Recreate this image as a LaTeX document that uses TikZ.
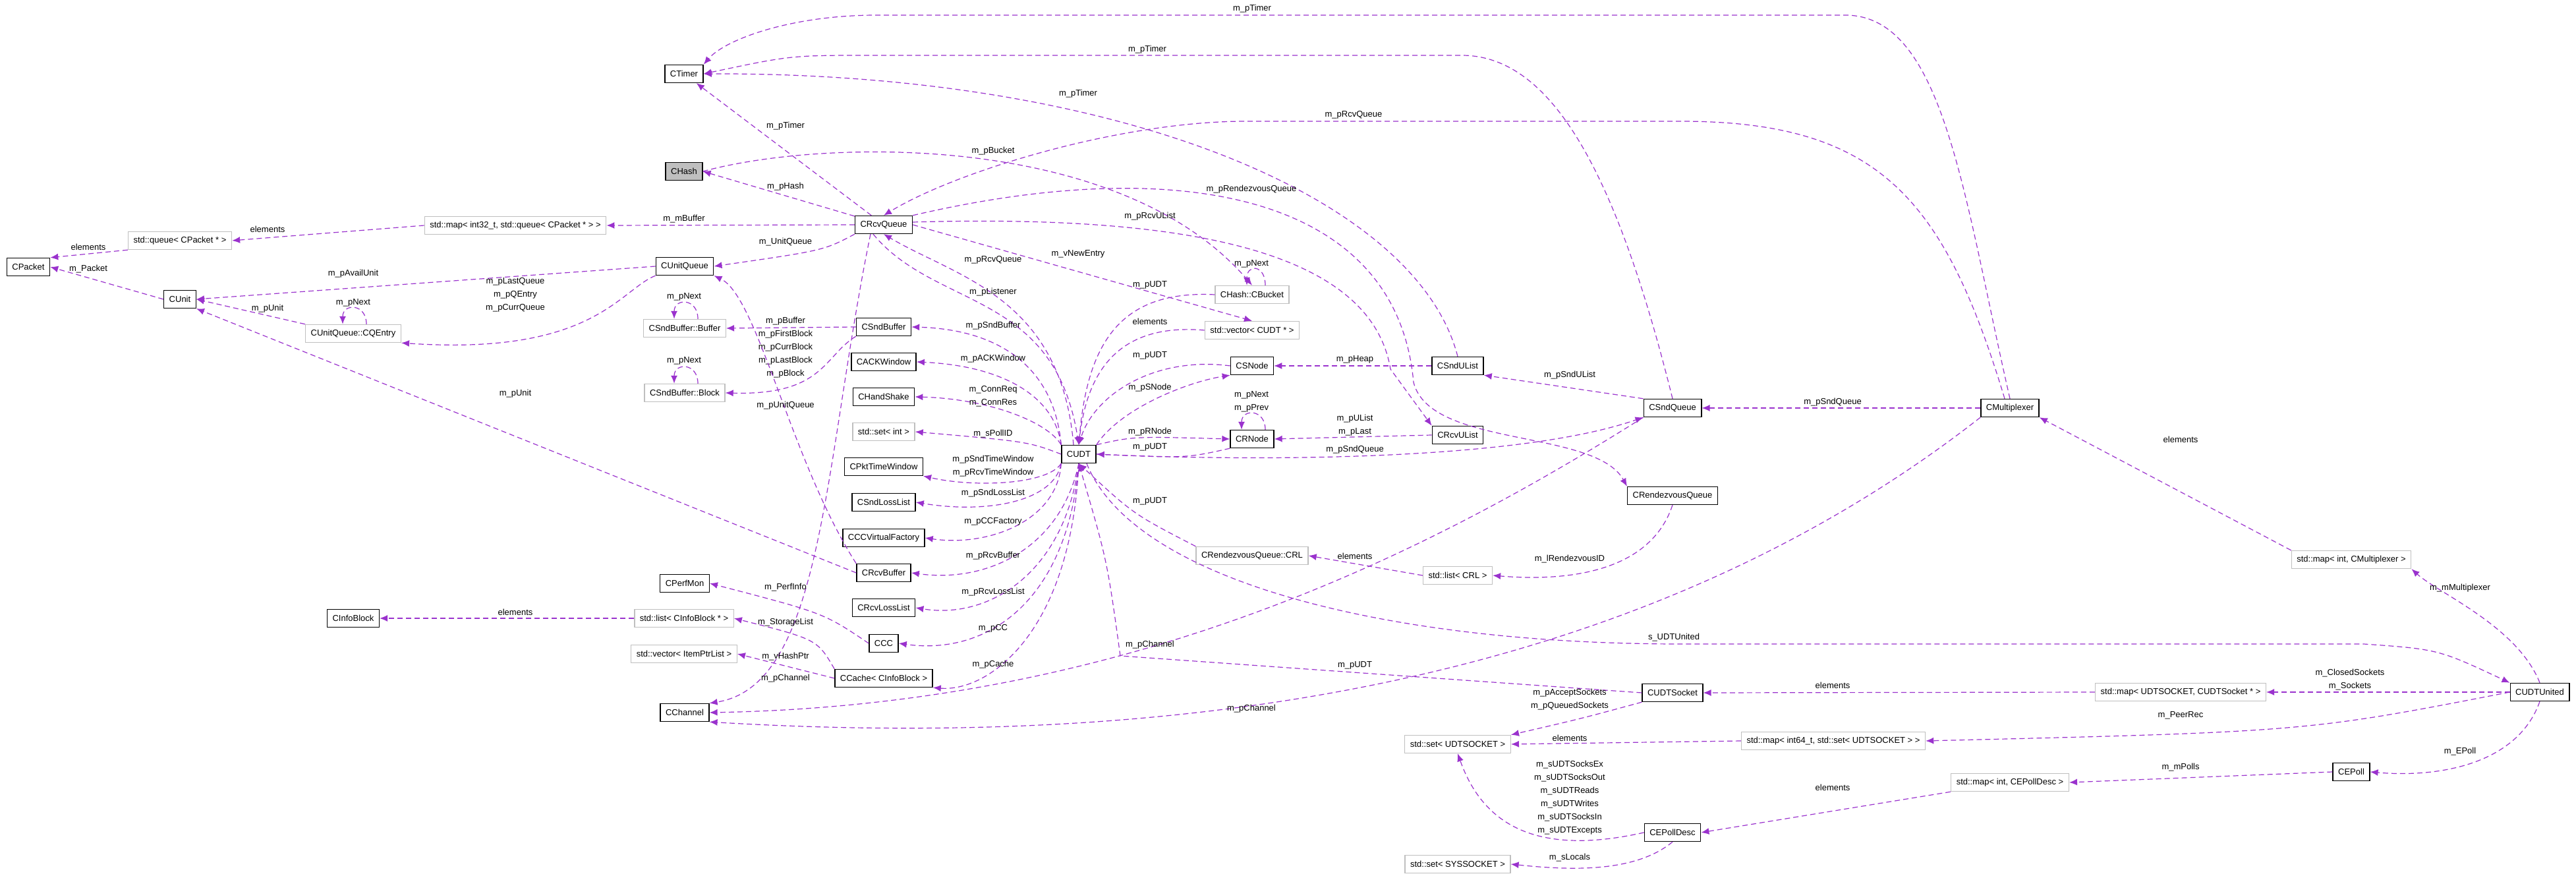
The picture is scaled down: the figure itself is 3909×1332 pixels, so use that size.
\documentclass[tikz,border=0pt]{standalone}
\usepackage{fontspec}
\setmainfont{Liberation Sans}
\usetikzlibrary{arrows.meta}
\definecolor{edgec}{HTML}{9A32CD}
\definecolor{stdc}{HTML}{BFBFBF}
\begin{document}
\begin{tikzpicture}[x=0.5pt,y=-0.5pt,
  cls/.style={draw=black,line width=0.7pt,font=\fontsize{6.5}{7}\selectfont,inner xsep=4pt,inner ysep=0pt,minimum height=13.5pt,fill=white},
  stdn/.style={cls,draw=stdc},
  e/.style={draw=edgec,line width=0.6pt,dash pattern=on 4pt off 2.5pt,-{Latex[length=6pt,width=5pt]}},
  lbl/.style={font=\fontsize{6.5}{8}\selectfont,inner sep=0pt,align=center}]
\useasboundingbox (0,0) rectangle (3909,1332);
% nodes
\node[cls] (timer) at (1038,112) {CTimer};
\node[cls,fill=stdc] (hash) at (1038,260) {CHash};
\node[stdn] (mapbuf) at (782,342) {std::map< int32\_t, std::queue< CPacket * > >};
\node[stdn] (queue) at (273,365) {std::queue< CPacket * >};
\node[cls] (packet) at (43,405) {CPacket};
\node[cls] (unitq) at (1039,404) {CUnitQueue};
\node[cls] (unit) at (273,454) {CUnit};
\node[stdn] (cqentry) at (536,506) {CUnitQueue::CQEntry};
\node[stdn] (sbuf) at (1039,498) {CSndBuffer::Buffer};
\node[stdn] (sblock) at (1039,596) {CSndBuffer::Block};
\node[cls] (perfmon) at (1039,885) {CPerfMon};
\node[cls] (infoblock) at (536,938) {CInfoBlock};
\node[stdn] (listinfo) at (1038,938) {std::list< CInfoBlock * >};
\node[stdn] (vechash) at (1038,992) {std::vector< ItemPtrList >};
\node[cls] (channel) at (1039,1081) {CChannel};
\node[cls] (rcvq) at (1341,341) {CRcvQueue};
\node[cls] (sndbuffer) at (1341,496) {CSndBuffer};
\node[cls] (ack) at (1341,549) {CACKWindow};
\node[cls] (hs) at (1341,602) {CHandShake};
\node[stdn] (setint) at (1341,655) {std::set< int >};
\node[cls] (ptw) at (1341,708) {CPktTimeWindow};
\node[cls] (sll) at (1341,762) {CSndLossList};
\node[cls] (ccvf) at (1341,816) {CCCVirtualFactory};
\node[cls] (rbuf) at (1341,869) {CRcvBuffer};
\node[cls] (rll) at (1341,922) {CRcvLossList};
\node[cls] (ccc) at (1341,976) {CCC};
\node[cls] (cache) at (1341,1029) {CCache< CInfoBlock >};
\node[cls] (udt) at (1637,689) {CUDT};
\node[stdn] (bucket) at (1900,447) {CHash::CBucket};
\node[stdn] (vecudt) at (1900,501) {std::vector< CUDT * >};
\node[cls] (snode) at (1900,555) {CSNode};
\node[cls] (rnode) at (1900,666) {CRNode};
\node[stdn] (crl) at (1900,843) {CRendezvousQueue::CRL};
\node[cls] (sndulist) at (2212,555) {CSndUList};
\node[cls] (rcvulist) at (2212,660) {CRcvUList};
\node[stdn] (listcrl) at (2212,873) {std::list< CRL >};
\node[stdn] (setudt) at (2212,1129) {std::set< UDTSOCKET >};
\node[stdn] (setsys) at (2212,1311) {std::set< SYSSOCKET >};
\node[cls] (sndq) at (2538,619) {CSndQueue};
\node[cls] (rdvq) at (2538,752) {CRendezvousQueue};
\node[cls] (udtsock) at (2538,1051) {CUDTSocket};
\node[cls] (epolldesc) at (2538,1263) {CEPollDesc};
\node[cls] (mux) at (3050,619) {CMultiplexer};
\node[stdn] (mapmux) at (3568,849) {std::map< int, CMultiplexer >};
\node[cls] (udtunited) at (3854,1050) {CUDTUnited};
\node[stdn] (mapsock) at (3309,1050) {std::map< UDTSOCKET, CUDTSocket * >};
\node[stdn] (mappeer) at (2782,1124) {std::map< int64\_t, std::set< UDTSOCKET > >};
\node[cls] (epoll) at (3568,1171) {CEPoll};
\node[stdn] (mappoll) at (3050,1187) {std::map< int, CEPollDesc >};
% edges
\draw[e] (rcvq) -- (timer);
\node[lbl] (l1) at (1192,191) {m\_pTimer};
\draw[e] (sndulist.north) .. controls (2150,300) and (1700,110) .. (timer.east);
\node[lbl] (l2) at (1636,142) {m\_pTimer};
\draw[e] (sndq.north) .. controls (2450,250) and (2350,84) .. (2218,84) -- (1320,84) .. controls (1200,84) .. (timer.east);
\node[lbl] (l3) at (1741,75) {m\_pTimer};
\draw[e] (mux.north) .. controls (2980,300) and (2950,23) .. (2800,23) -- (1330,23) .. controls (1200,23) and (1100,60) .. (timer.north east);
\node[lbl] (l4) at (1900,13) {m\_pTimer};
\draw[e] ([xshift=-4pt]mux.north) .. controls (2950,300) and (2850,184) .. (2550,184) -- (1890,184) .. controls (1700,184) and (1450,260) .. (rcvq.north);
\node[lbl] (l5) at (2054,174) {m\_pRcvQueue};
\draw[e] (rcvq) -- (hash.east);
\node[lbl] (l6) at (1192,283) {m\_pHash};
\draw[e] (hash.east) .. controls (1250,210) and (1700,200) .. (bucket.north);
\node[lbl] (l7) at (1507,229) {m\_pBucket};
\draw[e] (rcvq.west) -- (mapbuf.east);
\node[lbl] (l8) at (1038,332) {m\_mBuffer};
\draw[e] (mapbuf.west) -- (queue.east);
\node[lbl] (l9) at (406,348) {elements};
\draw[e] (queue.south west) -- (packet.north east);
\node[lbl] (l10) at (134,375) {elements};
\draw[e] (unit.west) -- (packet.east);
\node[lbl] (l11) at (134,408) {m\_Packet};
\draw[e] (rcvq.south west) .. controls (1250,380) .. (unitq.east);
\node[lbl] (l12) at (1192,367) {m\_UnitQueue};
\draw[e] (unitq.west) -- (unit.east);
\node[lbl] (l13) at (536,415) {m\_pAvailUnit};
\draw[e] (unitq.south west) .. controls (940,440) and (900,540) .. (cqentry.south east);
\node[lbl] (l14) at (782,447) {m\_pLastQueue\\[2pt]m\_pQEntry\\[2pt]m\_pCurrQueue};
\draw[e] (cqentry.north west) -- (unit.east);
\node[lbl] (l15) at (406,468) {m\_pUnit};
\draw[e] ([xshift=10pt]cqentry.north) .. controls +(0,-32) and +(0,-32) .. ([xshift=-8pt]cqentry.north);
\node[lbl] (l16) at (536,459) {m\_pNext};
\draw[e] (sndbuffer.west) -- (sbuf.east);
\node[lbl] (l17) at (1192,487) {m\_pBuffer};
\draw[e] ([xshift=10pt]sbuf.north) .. controls +(0,-32) and +(0,-32) .. ([xshift=-8pt]sbuf.north);
\node[lbl] (l18) at (1038,450) {m\_pNext};
\draw[e] (sndbuffer.south west) .. controls (1250,540) and (1250,600) .. (sblock.east);
\node[lbl] (l19) at (1192,537) {m\_pFirstBlock\\[2pt]m\_pCurrBlock\\[2pt]m\_pLastBlock\\[2pt]m\_pBlock};
\draw[e] ([xshift=10pt]sblock.north) .. controls +(0,-32) and +(0,-32) .. ([xshift=-8pt]sblock.north);
\node[lbl] (l20) at (1038,547) {m\_pNext};
\draw[e] (rbuf.west) -- (unit.south east);
\node[lbl] (l21) at (782,597) {m\_pUnit};
\draw[e] (rbuf.north west) .. controls (1200,700) and (1150,450) .. (unitq.south east);
\node[lbl] (l22) at (1192,615) {m\_pUnitQueue};
\draw[e] ([xshift=-10pt]rcvq.south) .. controls (1250,700) and (1250,1040) .. (channel.north east);
\node[lbl] (l23) at (1192,1029) {m\_pChannel};
\draw[e] (ccc.west) .. controls (1250,930) .. (perfmon.east);
\node[lbl] (l24) at (1192,891) {m\_PerfInfo};
\draw[e] (cache.north west) .. controls (1240,970) .. (listinfo.east);
\node[lbl] (l25) at (1192,944) {m\_StorageList};
\draw[e] (listinfo.west) -- (infoblock.east);
\node[lbl] (l26) at (782,929) {elements};
\draw[e] (cache.west) -- (vechash.east);
\node[lbl] (l27) at (1192,996) {m\_vHashPtr};
\draw[e] (sndq.south west) .. controls (2150,850) and (1700,1070) .. (channel.east);
\node[lbl] (l28) at (1745,978) {m\_pChannel};
\draw[e] (mux.south west) .. controls (2600,950) and (2000,1150) .. (channel.south east);
\node[lbl] (l29) at (1899,1075) {m\_pChannel};
% CUDT
\draw[e] ([xshift=-4pt]udt.north) .. controls (1610,450) and (1450,420) .. (rcvq.south);
\node[lbl] (l30) at (1507,394) {m\_pRcvQueue};
\draw[e] ([xshift=-8pt]rcvq.south) .. controls (1420,470) and (1600,440) .. (udt.north);
\node[lbl] (l31) at (1507,443) {m\_pListener};
\draw[e] (rcvq.east) -- (vecudt.north);
\node[lbl] (l32) at (1636,385) {m\_vNewEntry};
\draw[e] (vecudt.west) .. controls (1700,490) and (1650,560) .. (udt.north);
\node[lbl] (l33) at (1745,488) {elements};
\draw[e] (bucket.west) .. controls (1700,440) and (1650,520) .. (udt.north);
\node[lbl] (l34) at (1745,432) {m\_pUDT};
\draw[e] ([xshift=10pt]bucket.north) .. controls +(0,-32) and +(0,-32) .. ([xshift=-4pt]bucket.north);
\node[lbl] (l35) at (1899,400) {m\_pNext};
\draw[e] (snode.west) .. controls (1750,540) and (1660,600) .. (udt.north);
\node[lbl] (l36) at (1745,539) {m\_pUDT};
\draw[e] (udt.north east) .. controls (1700,620) and (1800,580) .. (snode.south west);
\node[lbl] (l37) at (1745,588) {m\_pSNode};
\draw[e] (sndulist.west) -- (snode.east);
\node[lbl] (l38) at (2056,545) {m\_pHeap};
\draw[e] (sndq.north west) -- (sndulist.south east);
\node[lbl] (l39) at (2382,569) {m\_pSndUList};
\draw[e] (udt.north east) .. controls (1720,662) .. (rnode.west);
\node[lbl] (l40) at (1745,655) {m\_pRNode};
\draw[e] (rnode.south west) .. controls (1800,695) .. (udt.east);
\node[lbl] (l41) at (1745,678) {m\_pUDT};
\draw[e] ([xshift=10pt]rnode.north) .. controls +(0,-32) and +(0,-32) .. ([xshift=-8pt]rnode.north);
\node[lbl] (l42) at (1899,609) {m\_pNext\\[2pt]m\_pPrev};
\draw[e] (rcvulist.west) -- (rnode.east);
\node[lbl] (l43) at (2056,645) {m\_pUList\\[2pt]m\_pLast};
\draw[e] ([yshift=2pt]rcvq.east) .. controls (1800,325) and (2080,380) .. (2110,560) -- (rcvulist.north west);
\node[lbl] (l44) at (1745,328) {m\_pRcvUList};
\draw[e] (rcvq.north east) .. controls (1800,230) and (2120,300) .. (2145,580) .. controls (2170,680) and (2420,650) .. (rdvq.north west);
\node[lbl] (l45) at (1899,287) {m\_pRendezvousQueue};
\draw[e] (udt.east) .. controls (1900,700) and (2300,700) .. (sndq.south west);
\node[lbl] (l46) at (2056,682) {m\_pSndQueue};
\draw[e] (crl.north west) .. controls (1720,780) .. (udt.south);
\node[lbl] (l47) at (1745,760) {m\_pUDT};
\draw[e] (listcrl.west) -- (crl.east);
\node[lbl] (l48) at (2056,844) {elements};
\draw[e] (rdvq.south) .. controls (2500,880) and (2350,880) .. (listcrl.east);
\node[lbl] (l49) at (2382,848) {m\_lRendezvousID};
\draw[e] ([xshift=6pt]udt.south) .. controls (1720,880) and (2100,977) .. (2550,977) -- (3587,977) .. controls (3700,985) .. (udtunited.north west);
\node[lbl] (l50) at (2540,967) {s\_UDTUnited};
\draw[e] (udtsock.west) -- (1700,995) .. controls (1680,850) .. (udt.south);
\node[lbl] (l51) at (2056,1009) {m\_pUDT};
\draw[e] (udtsock.south west) .. controls (2400,1090) .. (setudt.north east);
\node[lbl] (l52) at (2382,1061) {m\_pAcceptSockets\\[2pt]m\_pQueuedSockets};
\draw[e] (mappeer.west) -- (setudt.east);
\node[lbl] (l53) at (2382,1120) {elements};
\draw[e] (epolldesc.west) .. controls (2330,1300) and (2250,1250) .. (setudt.south);
\node[lbl] (l54) at (2382,1210) {m\_sUDTSocksEx\\[2pt]m\_sUDTSocksOut\\[2pt]m\_sUDTReads\\[2pt]m\_sUDTWrites\\[2pt]m\_sUDTSocksIn\\[2pt]m\_sUDTExcepts};
\draw[e] (epolldesc.south) .. controls (2480,1325) and (2380,1320) .. (setsys.east);
\node[lbl] (l55) at (2382,1301) {m\_sLocals};
\draw[e] (udtunited.west) -- (mapsock.east);
\node[lbl] (l56) at (3566,1031) {m\_ClosedSockets\\[2pt]m\_Sockets};
\draw[e] (mapsock.west) -- (udtsock.east);
\node[lbl] (l57) at (2781,1040) {elements};
\draw[e] (udtunited.west) .. controls (3500,1110) .. (mappeer.east);
\node[lbl] (l58) at (3309,1085) {m\_PeerRec};
\draw[e] (udtunited.north) .. controls (3820,950) and (3700,900) .. (mapmux.south east);
\node[lbl] (l59) at (3733,892) {m\_mMultiplexer};
\draw[e] (mapmux.north west) -- (mux.south east);
\node[lbl] (l60) at (3309,667) {elements};
\draw[e] (mux.west) -- (sndq.east);
\node[lbl] (l61) at (2781,610) {m\_pSndQueue};
\draw[e] (udtunited.south) .. controls (3820,1160) and (3700,1180) .. (epoll.east);
\node[lbl] (l62) at (3733,1140) {m\_EPoll};
\draw[e] (epoll.west) -- (mappoll.east);
\node[lbl] (l63) at (3309,1164) {m\_mPolls};
\draw[e] (mappoll.south west) -- (epolldesc.east);
\node[lbl] (l64) at (2781,1195) {elements};
% CUDT left column
\draw[e] (udt.north west) .. controls (1600,560) and (1520,500) .. (sndbuffer.east);
\node[lbl] (l65) at (1507,494) {m\_pSndBuffer};
\draw[e] (udt.north west) .. controls (1600,600) and (1520,555) .. (ack.east);
\node[lbl] (l66) at (1507,544) {m\_pACKWindow};
\draw[e] (udt.north west) .. controls (1590,640) and (1500,605) .. (hs.east);
\node[lbl] (l67) at (1507,601) {m\_ConnReq\\[2pt]m\_ConnRes};
\draw[e] (udt.west) .. controls (1560,670) .. (setint.east);
\node[lbl] (l68) at (1507,658) {m\_sPollID};
\draw[e] (udt.south west) .. controls (1590,735) and (1480,740) .. (ptw.south east);
\node[lbl] (l69) at (1507,707) {m\_pSndTimeWindow\\[2pt]m\_pRcvTimeWindow};
\draw[e] (udt.south west) .. controls (1600,760) and (1500,780) .. (sll.east);
\node[lbl] (l70) at (1507,748) {m\_pSndLossList};
\draw[e] (udt.south west) .. controls (1605,790) and (1500,830) .. (ccvf.east);
\node[lbl] (l71) at (1507,791) {m\_pCCFactory};
\draw[e] (udt.south) .. controls (1610,830) and (1500,885) .. (rbuf.east);
\node[lbl] (l72) at (1507,843) {m\_pRcvBuffer};
\draw[e] (udt.south) .. controls (1615,870) and (1500,940) .. (rll.east);
\node[lbl] (l73) at (1507,898) {m\_pRcvLossList};
\draw[e] (udt.south) .. controls (1620,910) and (1500,995) .. (ccc.east);
\node[lbl] (l74) at (1507,953) {m\_pCC};
\draw[e] (udt.south) .. controls (1625,960) and (1500,1050) .. (cache.south east);
\node[lbl] (l75) at (1507,1008) {m\_pCache};
\end{tikzpicture}
\end{document}
